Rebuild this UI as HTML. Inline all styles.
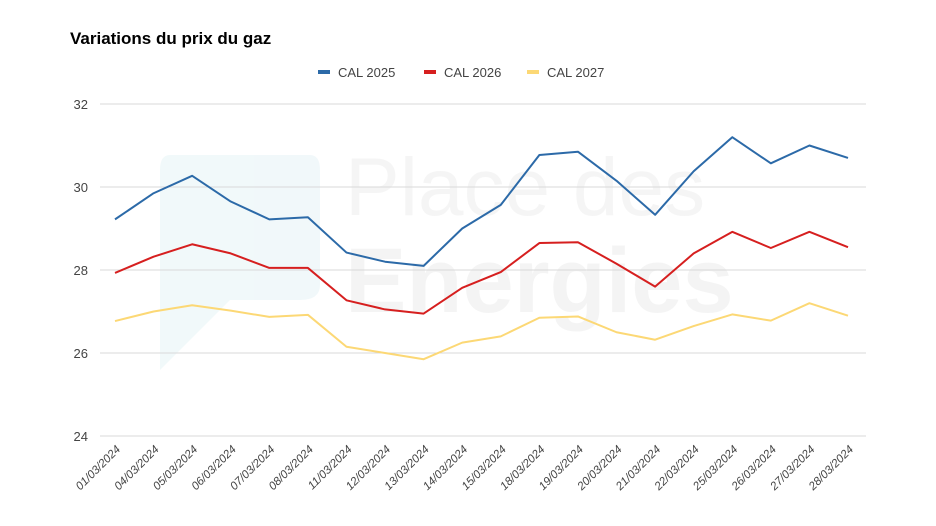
<!DOCTYPE html>
<html><head><meta charset="utf-8"><style>
body{margin:0;background:#fff;}
svg{display:block;font-family:"Liberation Sans",Arial,sans-serif;}
</style></head><body>
<svg id="chart" width="936" height="526">
<rect width="936" height="526" fill="#fff"/>
<g opacity="0.5">
<path d="M170 155 L310 155 Q320 155 320 170 L320 285 Q320 300 300 300 L230 300 L160 370 L160 170 Q160 155 170 155 Z" fill="#e4f3f6"/>
<text x="345" y="215" font-size="82" fill="#ececec" font-weight="300">Place des</text>
<text x="345" y="312" font-size="92" fill="#ebebeb" font-weight="bold">Energies</text>
</g>
<text x="70" y="44" font-size="17" font-weight="bold" fill="#000">Variations du prix du gaz</text>
<g id="legend" font-size="13" fill="#444"></g>
<g id="grid"></g>
<g id="series"></g>
<g id="xlabels" font-size="11.5" fill="#444" font-style="italic"></g>
</svg>
<script>
const categories=["01/03/2024","04/03/2024","05/03/2024","06/03/2024","07/03/2024","08/03/2024","11/03/2024","12/03/2024","13/03/2024","14/03/2024","15/03/2024","18/03/2024","19/03/2024","20/03/2024","21/03/2024","22/03/2024","25/03/2024","26/03/2024","27/03/2024","28/03/2024"];
const cal2025=[29.22,29.85,30.27,29.65,29.22,29.27,28.42,28.2,28.1,29.0,29.57,30.77,30.85,30.15,29.33,30.38,31.2,30.57,31.0,30.7];
const cal2026=[27.93,28.32,28.62,28.4,28.05,28.05,27.27,27.05,26.95,27.57,27.95,28.65,28.67,28.15,27.6,28.4,28.92,28.53,28.92,28.55];
const cal2027=[26.77,27.0,27.15,27.02,26.87,26.92,26.15,26.0,25.85,26.25,26.4,26.85,26.88,26.5,26.32,26.65,26.93,26.78,27.2,26.9];
const yTicks=[24,26,28,30,32];
const seriesNames=["CAL 2025","CAL 2026","CAL 2027"];
const colors=["#2c6aa8","#d61f1f","#fcd875"];
const NS="http://www.w3.org/2000/svg";
const x0=115,x1=848,yTop=104,yBot=436,vMin=24,vMax=32;
const xs=i=>x0+(x1-x0)*i/(categories.length-1);
const ys=v=>yBot-(v-vMin)/(vMax-vMin)*(yBot-yTop);
function mk(tag,attrs,parent){const e=document.createElementNS(NS,tag);for(const k in attrs)e.setAttribute(k,attrs[k]);parent.appendChild(e);return e;}
const grid=document.getElementById('grid');
yTicks.forEach(t=>{
 const l=mk('line',{x1:100,x2:866,y1:ys(t),y2:ys(t),stroke:'#d9d9d9','stroke-width':1},grid);
 
 
 const tx=mk('text',{x:88,y:ys(t)+5,'text-anchor':'end','font-size':13,fill:'#444'},grid);
 tx.textContent=t;
 
 
});
const sg=document.getElementById('series');
[cal2025,cal2026,cal2027].forEach((arr,si)=>{
 const p=mk('polyline',{points:arr.map((v,i)=>xs(i)+','+ys(v)).join(' '),fill:'none',stroke:colors[si],'stroke-width':2,'stroke-linejoin':'round'},sg);
 
 
});
const xl=document.getElementById('xlabels');
categories.forEach((c,i)=>{
 const t=mk('text',{x:0,y:0,'text-anchor':'end',transform:`translate(${xs(i)+6},${yBot+14}) rotate(-45)`},xl);
 t.textContent=c;
 
 
});
const lg=document.getElementById('legend');
const lx=[318,424,527];
seriesNames.forEach((n,i)=>{
 const g=mk('g',{},lg);
 
 
 mk('rect',{x:lx[i],y:70,width:12,height:4,fill:colors[i]},g);
 const t=mk('text',{x:lx[i]+20,y:77},g);t.textContent=n;
});
</script>
</body></html>
